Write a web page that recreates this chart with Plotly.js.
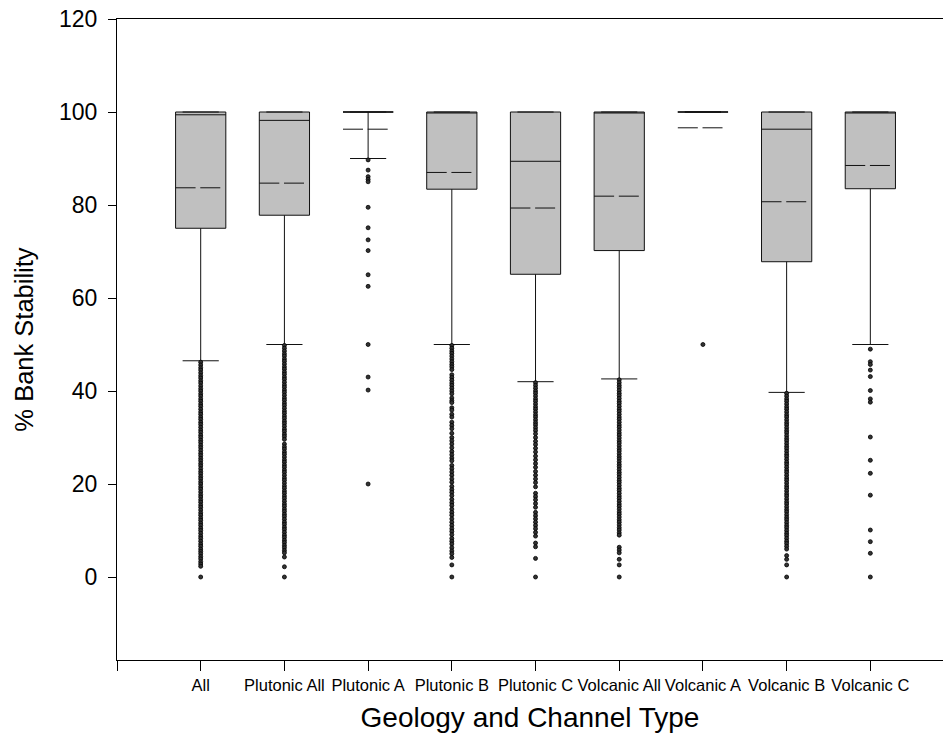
<!DOCTYPE html>
<html>
<head>
<meta charset="utf-8">
<script src="https://cdn.plot.ly/plotly-3.0.1.min.js"></script>
<style>html,body{margin:0;padding:0;background:#fff;}#chart{width:943px;height:739px;}</style>
</head>
<body>
<div id="chart"></div>
<script>
// ---- data ----
const categories = ['All', 'Plutonic All', 'Plutonic A', 'Plutonic B', 'Plutonic C',
                    'Volcanic All', 'Volcanic A', 'Volcanic B', 'Volcanic C'];
const q1Values      = [75.0, 77.8, 100, 83.4, 65.1, 70.2, 100, 67.8, 83.5];
const medianValues  = [99.4, 98.2, 100, 100, 89.4, 100, 100, 96.3, 100];
const q3Values      = [100, 100, 100, 100, 100, 100, 100, 100, 100];
const lowerWhiskers = [46.5, 50.0, 90.0, 50.0, 42.0, 42.6, 100, 39.7, 50.0];
const upperWhiskers = [100, 100, 100, 100, 100, 100, 100, 100, 100];
const meanValues    = [83.7, 84.7, 96.3, 87.0, 79.35, 81.9, 96.6, 80.7, 88.5];
const yTickValues   = [0, 20, 40, 60, 80, 100, 120];

const outAll = [46.2, 45.6, 45.0, 44.5, 43.9, 43.3, 42.8, 42.2, 41.7, 41.1, 40.5, 40.0, 39.4, 38.9,
  38.3, 37.8, 37.2, 36.7, 36.1, 35.5, 35.0, 34.4, 33.9, 33.3, 32.8, 32.2, 31.6, 31.1, 30.5, 30.0,
  29.4, 28.9, 28.3, 27.8, 27.2, 26.6, 26.1, 25.5, 25.0, 24.4, 23.9, 23.3, 22.7, 22.2, 21.6, 21.1,
  20.5, 20.0, 19.4, 18.9, 18.3, 17.7, 17.2, 16.6, 16.1, 15.5, 15.0, 14.4, 13.8, 13.3, 12.7, 12.2,
  11.6, 11.1, 10.5, 10.0, 9.4, 8.8, 8.3, 7.7, 7.1, 6.6, 6.0, 5.5, 5.0, 4.4, 3.9, 3.3, 2.8, 2.3, 0];
const outPlutonicAll = [49.8, 49.2, 48.6, 48.0, 47.5, 46.9, 46.4, 45.8, 45.2, 44.7, 44.1, 43.6, 43.0,
  42.5, 41.9, 41.3, 40.8, 40.2, 39.7, 39.1, 38.5, 38.0, 37.4, 36.9, 36.3, 35.7, 35.2, 34.6, 34.1,
  33.5, 33.0, 32.4, 31.8, 31.3, 30.7, 30.2, 29.6, 28.6, 28.0, 27.5, 26.9, 26.4, 25.8, 25.2, 24.7,
  24.1, 23.6, 23.0, 22.5, 21.9, 21.3, 20.8, 20.2, 19.6, 19.1, 18.5, 18.0, 17.4, 16.9, 16.3, 15.7,
  15.2, 14.6, 14.1, 13.5, 13.0, 12.4, 11.8, 11.3, 10.7, 10.2, 9.6, 9.0, 8.5, 7.9, 7.4, 6.8, 6.3,
  5.7, 5.2, 4.3, 2.2, 0];
const outPlutonicA = [89.7, 87.5, 86.1, 85.5, 85.0, 79.5, 75.1, 72.5, 70.2, 65.0, 62.5, 50.0, 43.0, 40.2, 20.0];
const outPlutonicB = [49.8, 49.2, 48.6, 48.1, 47.5, 46.9, 46.3, 45.7, 45.2, 44.6, 43.5, 42.9, 42.3,
  41.7, 41.2, 40.6, 40.0, 39.4, 38.5, 37.9, 37.5, 36.4, 35.9, 35.0, 34.4, 33.3, 32.6, 31.9, 30.9,
  30.0, 29.3, 28.6, 27.8, 27.0, 26.3, 25.6, 25.0, 24.0, 23.3, 22.6, 21.9, 21.1, 20.4, 19.5, 18.8,
  18.2, 17.5, 16.7, 16.0, 15.4, 14.6, 13.9, 13.3, 12.5, 11.8, 11.1, 10.4, 9.8, 9.1, 8.3, 7.7, 7.1,
  6.3, 5.6, 5.0, 4.2, 2.6, 0];
const outPlutonicC = [41.8, 41.2, 40.6, 40.0, 39.5, 38.9, 38.3, 37.8, 37.2, 36.6, 36.1, 35.5, 34.9,
  34.4, 33.8, 33.2, 32.7, 32.1, 31.5, 30.8, 30.0, 29.2, 28.5, 27.7, 26.9, 26.0, 25.2, 24.4, 23.6,
  22.7, 21.9, 21.1, 20.3, 19.4, 18.0, 17.3, 16.6, 15.8, 15.0, 13.9, 13.2, 12.5, 11.8, 11.1, 10.4,
  9.6, 8.8, 7.3, 6.5, 4.0, 0];
const outVolcanicAll = [42.4, 41.8, 41.2, 40.7, 40.1, 39.5, 39.0, 38.4, 37.8, 37.3, 36.7, 36.1, 35.6,
  35.0, 34.4, 33.9, 33.3, 32.7, 32.2, 31.6, 31.0, 30.5, 29.9, 29.3, 28.8, 28.2, 27.6, 27.1, 26.5,
  25.9, 25.4, 24.8, 24.2, 23.7, 23.1, 22.5, 22.0, 21.4, 20.8, 20.3, 19.7, 19.1, 18.6, 18.0, 17.4,
  16.9, 16.3, 15.7, 15.2, 14.6, 14.0, 13.5, 12.9, 12.3, 11.8, 11.2, 10.6, 10.1, 9.5, 9.0, 6.4, 5.8,
  5.2, 3.8, 2.6, 0];
const outVolcanicA = [50.0];
const outVolcanicB = [39.5, 38.9, 38.3, 37.8, 37.2, 36.6, 36.1, 35.5, 34.9, 34.4, 33.8, 33.2, 32.7,
  32.1, 31.5, 31.0, 30.4, 29.8, 29.3, 28.7, 28.1, 27.6, 27.0, 26.4, 25.9, 25.3, 24.7, 24.2, 23.6,
  23.0, 22.5, 21.9, 21.3, 20.8, 20.2, 19.6, 19.1, 18.5, 17.9, 17.4, 16.8, 16.2, 15.7, 15.1, 14.5,
  14.0, 13.4, 12.8, 12.3, 11.7, 11.1, 10.6, 10.0, 9.4, 8.9, 8.3, 7.7, 7.2, 6.6, 6.0, 4.6, 3.8, 2.6, 0];
const outVolcanicC = [49.0, 46.3, 45.7, 44.5, 43.1, 40.1, 38.3, 37.6, 30.1, 25.1, 22.3, 17.6, 10.1, 7.6, 5.1, 0];

const outliers = [outAll, outPlutonicAll, outPlutonicA, outPlutonicB, outPlutonicC,
                  outVolcanicAll, outVolcanicA, outVolcanicB, outVolcanicC];

// ---- build traces ----
const positions = categories.map((c, i) => i);
const BOX_W = 0.6;
const traces = [];

traces.push({
  type: 'box',
  x: positions,
  q1: q1Values,
  median: medianValues,
  q3: q3Values,
  lowerfence: lowerWhiskers,
  upperfence: upperWhiskers,
  width: BOX_W,
  whiskerwidth: 0.72,
  fillcolor: '#c0c0c0',
  line: {color: '#111', width: 1},
  boxpoints: false,
  hoverinfo: 'skip'
});

positions.forEach((p, i) => {
  traces.push({
    type: 'scatter', mode: 'lines',
    x: [p - BOX_W / 2, p + BOX_W / 2],
    y: [meanValues[i], meanValues[i]],
    line: {color: '#111', width: 1, dash: '20px,4.7px,20px,20px'},
    hoverinfo: 'skip'
  });
});

positions.forEach((p, i) => {
  traces.push({
    type: 'scatter', mode: 'markers',
    x: outliers[i].map(() => p),
    y: outliers[i],
    marker: {symbol: 'circle', size: 4, color: '#333', line: {color: '#000', width: 0.8}},
    hoverinfo: 'skip'
  });
});

const FONT = 'Liberation Sans, Arial, Helvetica, sans-serif';

const layout = {
  width: 943, height: 739,
  margin: {l: 117, r: 0, t: 19, b: 79, pad: 0},
  paper_bgcolor: '#fff', plot_bgcolor: '#fff',
  showlegend: false,
  font: {family: FONT, color: '#000'},
  xaxis: {
    range: [-1, 8.868],
    tickmode: 'array',
    tickvals: [-1].concat(positions),
    ticktext: [''].concat(categories),
    ticks: 'outside', ticklen: 10, tickwidth: 1, tickcolor: '#000',
    showline: true, linecolor: '#000', linewidth: 1, mirror: true,
    showgrid: false, zeroline: false,
    tickfont: {family: FONT, size: 16.5, color: '#000'},
    title: {text: 'Geology and Channel Type', font: {family: FONT, size: 28, color: '#000'}, standoff: 14},
    automargin: false
  },
  yaxis: {
    range: [-17.85, 120],
    tickmode: 'array',
    tickvals: yTickValues,
    ticks: 'outside', ticklen: 8, tickwidth: 1, tickcolor: '#000',
    ticklabelstandoff: 6,
    showline: true, linecolor: '#000', linewidth: 1, mirror: false,
    showgrid: false, zeroline: false,
    tickfont: {family: FONT, size: 23, color: '#000'},
    title: {text: '% Bank Stability', font: {family: FONT, size: 25.5, color: '#000'}, standoff: 18},
    automargin: false
  }
};

Plotly.newPlot('chart', traces, layout, {staticPlot: true, displayModeBar: false});
</script>
</body>
</html>
